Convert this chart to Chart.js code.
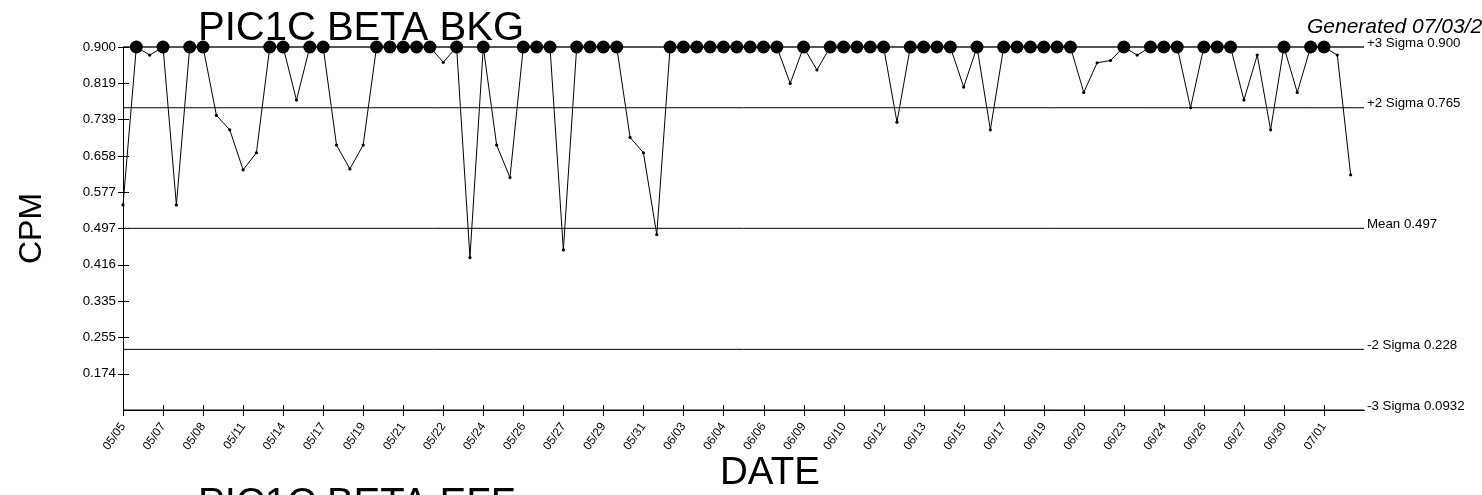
<!DOCTYPE html>
<html>
<head>
<meta charset="utf-8">
<script src="https://cdn.jsdelivr.net/npm/chart.js@4.4.0/dist/chart.umd.min.js"></script>
<style>
  html, body { margin: 0; padding: 0; background: #fff; overflow: hidden; }
  #wrap { width: 1482px; height: 495px; position: relative; }
</style>
</head>
<body>
<div id="wrap"><canvas id="c" width="1482" height="495"></canvas></div>
<script>
// ---- data ----
const chartTitle = 'PIC1C BETA BKG';
const nextTitle = 'PIC1C BETA EFF';
const generatedText = 'Generated 07/03/2';
const yAxisTitle = 'CPM';
const xAxisTitle = 'DATE';

const xTickLabels = ['05/05','05/07','05/08','05/11','05/14','05/17','05/19','05/21','05/22','05/24',
  '05/26','05/27','05/29','05/31','06/03','06/04','06/06','06/09','06/10','06/12','06/13','06/15',
  '06/17','06/19','06/20','06/23','06/24','06/26','06/27','06/30','07/01'];

const yTickLabels = ['0.900','0.819','0.739','0.658','0.577','0.497','0.416','0.335','0.255','0.174'];

const cpm = [
  0.549, 0.900, 0.882, 0.900, 0.549, 0.900, 0.900, 0.748, 0.716, 0.627,
  0.665, 0.900, 0.900, 0.782, 0.900, 0.900, 0.682, 0.629, 0.682, 0.900,
  0.900, 0.900, 0.900, 0.900, 0.866, 0.900, 0.432, 0.900, 0.682, 0.610,
  0.900, 0.900, 0.900, 0.449, 0.900, 0.900, 0.900, 0.900, 0.699, 0.665,
  0.483, 0.900, 0.900, 0.900, 0.900, 0.900, 0.900, 0.900, 0.900, 0.900,
  0.819, 0.900, 0.849, 0.900, 0.900, 0.900, 0.900, 0.900, 0.733, 0.900,
  0.900, 0.900, 0.900, 0.811, 0.900, 0.716, 0.900, 0.900, 0.900, 0.900,
  0.900, 0.900, 0.799, 0.865, 0.870, 0.900, 0.882, 0.900, 0.900, 0.900,
  0.765, 0.900, 0.900, 0.900, 0.782, 0.882, 0.716, 0.900, 0.799, 0.900,
  0.900, 0.882, 0.616
];

const limitNames  = ['+3 Sigma', '+2 Sigma', 'Mean', '-2 Sigma', '-3 Sigma'];
const limitLabels = ['0.900', '0.765', '0.497', '0.228', '0.0932'];
const limitValues = [0.900, 0.765, 0.497, 0.228, 0.0932];

// ---- derived ----
const pointsPerTick = 3;
const xMax = cpm.length; // axis ends one step after last point
const yTickValues = yTickLabels.map(Number);
const upper = limitValues[0];
const lower = limitValues[limitValues.length - 1];

const FONT = "'Liberation Sans', Arial, Helvetica, sans-serif";

const limitDatasets = limitValues.map((v, k) => ({
  label: limitNames[k],
  data: [{ x: 0, y: v }, { x: xMax, y: v }],
  borderColor: k === 0 ? '#555555' : '#000000',
  borderWidth: k === 0 ? 2 : 1,
  pointRadius: 0,
  clip: false,
}));

const overlay = {
  id: 'overlay',
  afterDraw(chart) {
    const ctx = chart.ctx;
    const ca = chart.chartArea;
    const xs = chart.scales.x, ys = chart.scales.y;
    ctx.save();
    ctx.strokeStyle = '#000';
    ctx.lineWidth = 1;
    // crossing tick marks on y axis
    ys.ticks.forEach(t => {
      const y = Math.round(ys.getPixelForValue(t.value)) + 0.5;
      ctx.beginPath(); ctx.moveTo(ca.left - 5, y); ctx.lineTo(ca.left + 6, y); ctx.stroke();
    });
    // crossing tick marks on x axis
    xs.ticks.forEach(t => {
      const x = Math.round(xs.getPixelForValue(t.value)) + 0.5;
      ctx.beginPath(); ctx.moveTo(x, ca.bottom - 5); ctx.lineTo(x, ca.bottom + 6); ctx.stroke();
    });
    // limit labels
    ctx.fillStyle = '#000';
    ctx.font = `13.3px ${FONT}`;
    ctx.textAlign = 'left';
    ctx.textBaseline = 'middle';
    limitValues.forEach((v, k) => {
      const y = ys.getPixelForValue(v);
      ctx.fillText(limitNames[k] + ' ' + limitLabels[k], ca.right + 3, y - 4);
    });
    // title
    ctx.textBaseline = 'alphabetic';
    ctx.font = `40px ${FONT}`;
    ctx.fillText(chartTitle, 198, 40);
    // next chart's title (cut off at the bottom)
    ctx.fillText(nextTitle, 198, 516);
    // generated stamp
    ctx.font = `italic 21px ${FONT}`;
    ctx.fillText(generatedText, 1307, 33);
    // x axis title
    ctx.font = `38.5px ${FONT}`;
    ctx.fillText(xAxisTitle, 720, 484);
    // y axis title
    ctx.save();
    ctx.font = `32px ${FONT}`;
    ctx.translate(41, (ca.top + ca.bottom) / 2);
    ctx.rotate(-Math.PI / 2);
    ctx.textAlign = 'center';
    ctx.fillText(yAxisTitle, 0, 0);
    ctx.restore();
    ctx.restore();
  }
};

new Chart(document.getElementById('c'), {
  type: 'line',
  data: {
    datasets: [
      {
        label: 'CPM',
        data: cpm.map((v, i) => ({ x: i, y: v })),
        borderColor: '#000',
        borderWidth: 1,
        pointBackgroundColor: '#000',
        pointBorderColor: '#000',
        pointBorderWidth: 0,
        pointRadius: ctx => (ctx.raw && ctx.raw.y >= upper ? 6.5 : 1.6),
        tension: 0,
        clip: false,
      },
      ...limitDatasets
    ]
  },
  options: {
    responsive: false,
    animation: false,
    events: [],
    layout: { padding: { left: 0, top: 47, right: 118, bottom: 0 } },
    plugins: { legend: { display: false }, tooltip: { enabled: false }, title: { display: false } },
    scales: {
      x: {
        type: 'linear',
        min: 0,
        max: xMax,
        afterFit: s => { s.height = 85; },
        afterBuildTicks: s => {
          s.ticks = xTickLabels.map((_, k) => ({ value: k * pointsPerTick }));
        },
        ticks: {
          autoSkip: false,
          maxRotation: 55,
          minRotation: 55,
          padding: 10,
          color: '#000',
          font: { family: FONT, size: 12 },
          callback: (v) => xTickLabels[Math.round(v / pointsPerTick)] ?? ''
        },
        grid: { drawOnChartArea: false, drawTicks: false },
        border: { display: true, color: '#000', width: 1 }
      },
      y: {
        type: 'linear',
        min: lower,
        max: upper,
        afterFit: s => { s.width = 123; },
        afterBuildTicks: s => {
          s.ticks = yTickValues.map(v => ({ value: v }));
        },
        ticks: {
          padding: 7,
          color: '#000',
          font: { family: FONT, size: 13.3 },
          callback: (v, i) => yTickLabels[i]
        },
        grid: { drawOnChartArea: false, drawTicks: false },
        border: { display: true, color: '#000', width: 1 }
      }
    }
  },
  plugins: [overlay]
});
</script>
</body>
</html>
